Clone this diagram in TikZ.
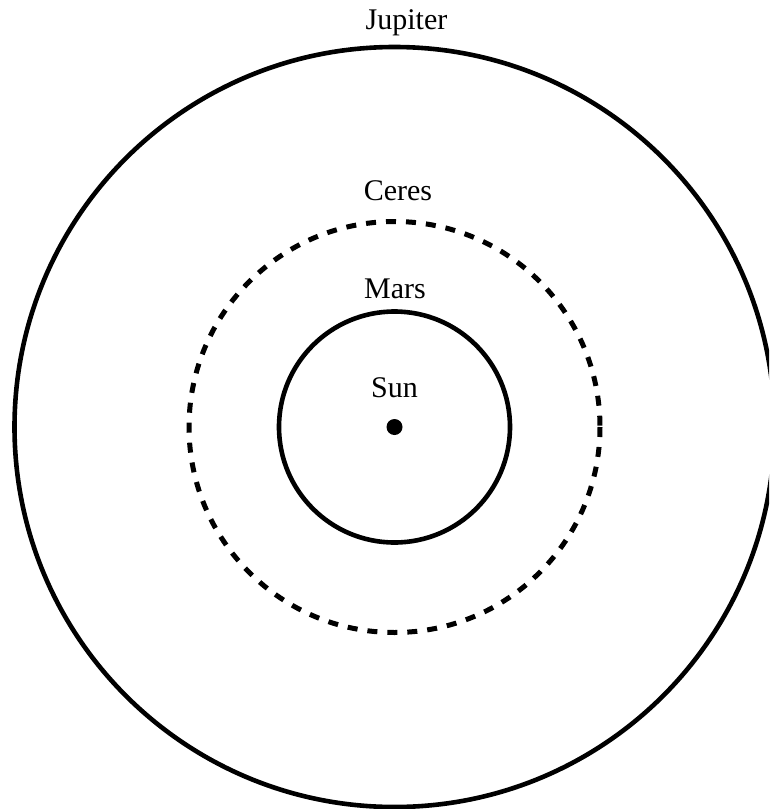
\documentclass[tikz,border=0pt]{standalone}
\usepackage{fontspec}
\setmainfont{Liberation Serif}
\usepackage{tikz}
\usetikzlibrary{positioning}
\tikzset{
  orbit/.style={draw=black,line width=4.6pt},
  ceresorbit/.style={orbit,line width=5pt,dash pattern=on 10pt off 10pt},
  bodyname/.style={anchor=base,inner sep=0pt,font=\fontsize{30}{35}\selectfont},
}

\begin{document}
\begin{tikzpicture}[x=1pt,y=-1pt]
\clip (0,0) rectangle (769,809);
\node[circle,fill=black,inner sep=0pt,minimum size=16pt] (sun) at (394.5,427) {};
\draw[orbit] (sun.center) circle[radius=115.5];
\draw[ceresorbit] (sun.center) circle[radius=205.5];
\draw[orbit] (sun.center) circle[radius=380];
% names of the bodies
\node[bodyname] (sunname) at (394.5,397) {Sun};
\node[bodyname] (marsname) at (395,298) {Mars};
\node[bodyname] (ceresname) at (398,200) {Ceres};
\node[bodyname] (jupitername) at (406.5,29) {Jupiter};
\end{tikzpicture}
\end{document}
